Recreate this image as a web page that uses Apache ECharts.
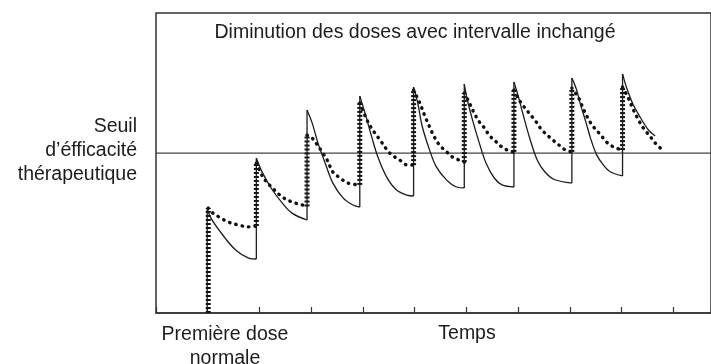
<!DOCTYPE html>
<html lang="fr">
<head>
<meta charset="utf-8">
<title>Diminution des doses avec intervalle inchangé</title>
<script src="https://cdn.jsdelivr.net/npm/echarts@6/dist/echarts.min.js"></script>
<style>
  html, body { margin: 0; padding: 0; background: #fff; }
  #chart { width: 711px; height: 364px; }
</style>
</head>
<body>
<div id="chart"></div>
<script>
// Concentration (0–100) over time, one unit = one dosing interval.
// Each inner array is one decay after a dose: [time, concentration].
const solidCurve = [
  [[0.99, 35], [1.06, 31.7], [1.29, 26], [1.54, 21], [1.79, 18.3], [1.94, 18]],
  [[1.94, 51.7], [2.06, 46.7], [2.25, 41], [2.44, 36.7], [2.63, 33.3], [2.92, 31]],
  [[2.92, 67.7], [3.02, 63.3], [3.13, 56.7], [3.27, 50], [3.42, 43.3], [3.62, 38.3], [3.81, 36], [3.94, 35.3]],
  [[3.94, 72.3], [4.04, 66.7], [4.17, 58.7], [4.29, 52], [4.46, 45.3], [4.65, 41], [4.85, 39.3], [4.98, 39]],
  [[4.98, 75.3], [5.06, 70], [5.15, 62], [5.29, 54.3], [5.42, 48.7], [5.62, 44.3], [5.81, 42], [5.96, 41.7]],
  [[5.96, 76.3], [6.02, 71], [6.12, 64.3], [6.25, 56.7], [6.38, 50], [6.54, 45], [6.69, 42.7], [6.92, 42]],
  [[6.92, 77], [7.0, 72.5], [7.1, 66], [7.23, 58], [7.37, 51], [7.52, 47], [7.7, 44.5], [8.04, 43.3]],
  [[8.04, 78.3], [8.12, 75], [8.21, 69.3], [8.31, 63.7], [8.4, 58.3], [8.52, 52.7], [8.65, 49.3], [8.79, 47], [9.02, 45.7]],
  [[9.02, 79.7], [9.1, 75], [9.23, 69.3], [9.37, 65], [9.52, 61], [9.65, 59]]
];

const dottedCurve = [
  [[1.01, 35], [1.1, 33.3], [1.25, 31.7], [1.4, 30.3], [1.6, 29.3], [1.79, 28.7], [1.94, 29]],
  [[1.94, 50], [2.08, 45], [2.25, 41.7], [2.44, 38.7], [2.63, 37], [2.83, 36], [2.92, 35.5]],
  [[2.92, 59.3], [3.02, 58.3], [3.12, 56], [3.21, 53.7], [3.31, 51], [3.42, 47], [3.56, 45], [3.71, 43.3], [3.94, 42.7]],
  [[3.94, 70], [4.08, 64.3], [4.19, 61], [4.33, 57.7], [4.52, 53.3], [4.71, 51], [4.87, 49.3], [4.98, 49.3]],
  [[4.98, 74.3], [5.1, 70], [5.19, 66], [5.29, 62], [5.38, 58.7], [5.48, 56], [5.62, 53.7], [5.73, 52], [5.96, 50.3]],
  [[5.96, 73.3], [6.06, 70], [6.15, 66.7], [6.25, 63.7], [6.35, 61.7], [6.44, 59.3], [6.58, 57], [6.69, 55.3], [6.83, 54], [6.92, 53.7]],
  [[6.92, 74.3], [7.02, 71], [7.21, 66.7], [7.35, 63.7], [7.46, 61], [7.63, 58.3], [7.79, 56], [7.92, 54.3], [8.04, 53.7]],
  [[8.04, 75], [8.17, 71.7], [8.27, 67.7], [8.37, 64.3], [8.46, 62], [8.6, 59.3], [8.71, 57], [8.85, 55.3], [9.02, 54.3]],
  [[9.02, 75.3], [9.13, 71.7], [9.23, 67.7], [9.33, 64.3], [9.42, 61.7], [9.56, 58.7], [9.65, 56.7], [9.75, 55]]
];

const thresholdLevel = 53.3;
const timeMax = 10.73;
const concentrationMax = 100;

const titleText = 'Diminution des doses avec intervalle inchangé';
const thresholdLabel = 'Seuil\nd\u2019éfficacité\nthérapeutique';
const firstDoseLabel = 'Première dose\nnormale';
const timeLabel = 'Temps';

const ink = '#1c1c1c';
const font = '"Liberation Sans", Arial, Helvetica, sans-serif';
const textFont = '19.5px ' + font;

const chart = echarts.init(document.getElementById('chart'), null, { renderer: 'canvas' });

const series = [];

// Reference threshold across the whole plot
series.push({
  type: 'line',
  data: [[0, thresholdLevel], [timeMax, thresholdLevel]],
  symbol: 'none',
  silent: true,
  lineStyle: { color: '#444', width: 1.2 },
  z: 1
});

function addCurve(segments, riseStyle, decayStyle, z) {
  segments.forEach((seg, i) => {
    const start = seg[0];
    const before = i === 0 ? 0 : segments[i - 1][segments[i - 1].length - 1][1];
    // vertical jump at each dose
    series.push({
      type: 'line',
      data: [[start[0], before], [start[0], start[1]]],
      symbol: 'none',
      silent: true,
      lineStyle: riseStyle,
      z: z
    });
    // elimination between doses
    series.push({
      type: 'line',
      data: seg,
      smooth: 0.35,
      symbol: 'none',
      silent: true,
      lineStyle: decayStyle,
      z: z
    });
  });
}

addCurve(dottedCurve,
  { color: '#111', width: 5, type: [2, 2], cap: 'butt' },
  { color: '#111', width: 3.4, type: [0.5, 6], cap: 'round' }, 2);

addCurve(solidCurve,
  { color: ink, width: 1.3 },
  { color: ink, width: 1.3 }, 3);

chart.setOption({
  animation: false,
  backgroundColor: '#fff',
  grid: {
    left: 156, top: 13, right: -5, bottom: 51,
    show: true, borderColor: '#333', borderWidth: 1.5, backgroundColor: 'transparent'
  },
  xAxis: {
    type: 'value', min: 0, max: timeMax, interval: 1,
    axisLine: { show: true, lineStyle: { color: '#333', width: 1.5 } },
    axisTick: { show: true, inside: true, length: 6, lineStyle: { color: '#333', width: 1.2 } },
    axisLabel: { show: false },
    splitLine: { show: false }
  },
  yAxis: {
    type: 'value', min: 0, max: concentrationMax,
    axisLine: { show: false }, axisTick: { show: false },
    axisLabel: { show: false }, splitLine: { show: false }
  },
  series: series,
  graphic: [
    {
      type: 'text', x: 415, y: 33,
      style: { text: titleText, font: textFont, fill: ink, textAlign: 'center', textVerticalAlign: 'middle' }
    },
    {
      type: 'text', x: 137, y: 151,
      style: { text: thresholdLabel, font: textFont, fill: ink, textAlign: 'right', textVerticalAlign: 'middle', lineHeight: 24 }
    },
    {
      type: 'text', x: 225, y: 347,
      style: { text: firstDoseLabel, font: textFont, fill: ink, textAlign: 'center', textVerticalAlign: 'middle', lineHeight: 24 }
    },
    {
      type: 'text', x: 467, y: 334,
      style: { text: timeLabel, font: textFont, fill: ink, textAlign: 'center', textVerticalAlign: 'middle' }
    }
  ]
});
</script>
</body>
</html>
